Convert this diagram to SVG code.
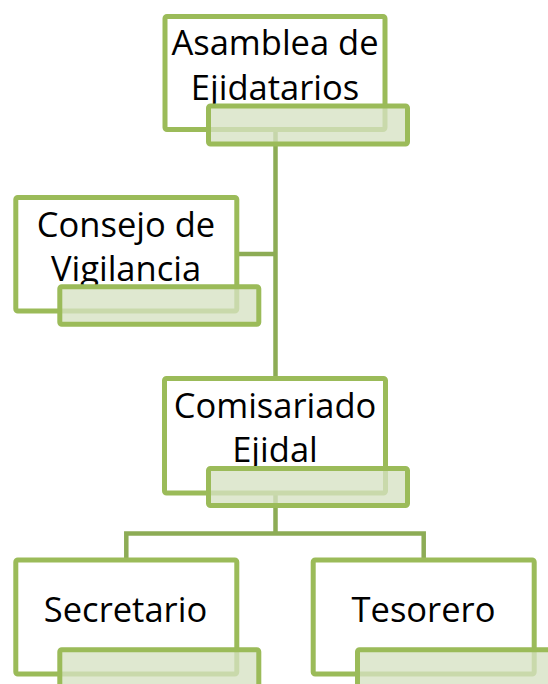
<svg xmlns="http://www.w3.org/2000/svg" width="548" height="684" viewBox="0 0 548 684">
  <style>
    .box { fill: #ffffff; stroke: #9bbb59; stroke-width: 5; }
    .lbl { fill: #d6e2c3; fill-opacity: 0.78; stroke: #9bbb59; stroke-width: 5; }
    .conn { fill: none; stroke: #8dac55; stroke-width: 4.5; }
    text { font-family: "Open Sans", "Liberation Sans", sans-serif; font-size: 34.5px; fill: #000000; text-anchor: middle; }
  </style>
  <rect width="548" height="684" fill="#ffffff"/>
  <g id="connectors">
    <path class="conn" d="M275.5 129.5 V378.5"/>
    <path class="conn" d="M236.8 254 H275.5"/>
    <path class="conn" d="M275.5 493 V533.5 M126.3 560 V533.5 H423.7 V560"/>
  </g>
  <g id="asamblea">
    <rect class="box" x="165" y="16.5" width="220" height="113" rx="2"/>
    <text x="275" y="55">Asamblea de</text>
    <text x="275" y="100">Ejidatarios</text>
    <rect class="lbl" x="208.5" y="106" width="199" height="38" rx="2"/>
  </g>
  <g id="consejo">
    <rect class="box" x="15.8" y="197.5" width="221" height="113.5" rx="2"/>
    <text x="126" y="236.5">Consejo de</text>
    <text x="126" y="281">Vigilancia</text>
    <rect class="lbl" x="59.8" y="286.8" width="199" height="37.5" rx="2"/>
  </g>
  <g id="comisariado">
    <rect class="box" x="164.5" y="378.5" width="221" height="114.5" rx="2"/>
    <text x="275" y="417.5">Comisariado</text>
    <text x="275" y="461.5">Ejidal</text>
    <rect class="lbl" x="208.5" y="468.5" width="199" height="37" rx="2"/>
  </g>
  <g id="secretario">
    <rect class="box" x="15.8" y="560" width="221" height="114" rx="2"/>
    <text x="125.5" y="621.7">Secretario</text>
    <rect class="lbl" x="59.8" y="649.8" width="199" height="38" rx="2"/>
  </g>
  <g id="tesorero">
    <rect class="box" x="313.2" y="560" width="221" height="114" rx="2"/>
    <text x="423.5" y="621.7">Tesorero</text>
    <rect class="lbl" x="357.5" y="649.8" width="199" height="38" rx="2"/>
  </g>
</svg>
